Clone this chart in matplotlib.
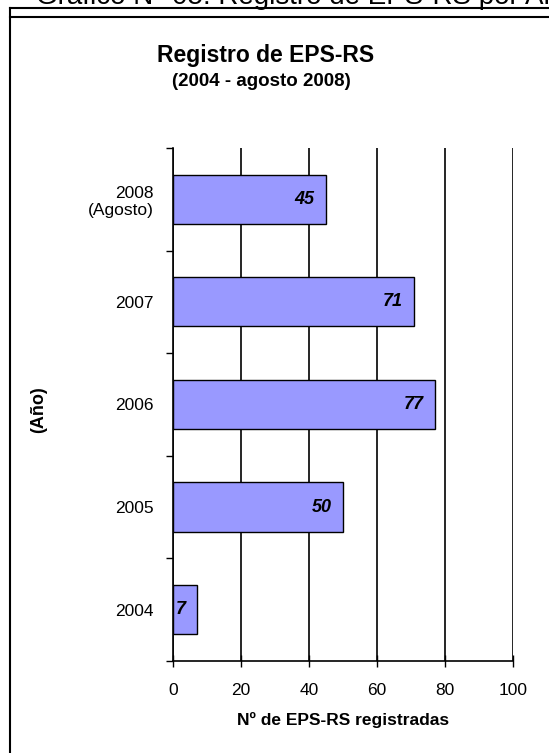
import matplotlib.pyplot as plt
from matplotlib.lines import Line2D

plt.rcParams['font.family'] = ['Liberation Sans', 'DejaVu Sans']

years = ['2004', '2005', '2006', '2007', '2008\n(Agosto)']
registered = [7, 50, 77, 71, 45]
x_ticks = [0, 20, 40, 60, 80, 100]

fig = plt.figure(figsize=(5.49, 7.53), dpi=100)
ax = fig.add_axes([0.315, 0.1222, 0.619, 0.6813])

pos = list(range(len(years)))
ax.barh(pos, registered, height=0.48, color='#9999FF', edgecolor='black', linewidth=1.0, zorder=3)
for p, v in zip(pos, registered):
    ax.annotate(str(v), (v, p), xytext=(-8, 0), textcoords='offset points',
                ha='right', va='center', fontsize=13,
                fontweight='bold', fontstyle='italic', zorder=4)

ax.set_xlim(0, 100)
ax.set_ylim(-0.5, len(years) - 0.5)
ax.set_xticks(x_ticks)
ax.set_yticks(pos)
ax.set_yticklabels(years, fontsize=12.5)
ax.tick_params(axis='y', length=0, pad=14)
ax.set_yticks([p - 0.5 for p in pos] + [len(years) - 0.5], minor=True)
ax.tick_params(axis='y', which='minor', length=5, width=1, direction='out')
ax.tick_params(axis='x', length=8, width=1, direction='inout', labelsize=12.5, pad=12)
ax.grid(axis='x', color='black', linewidth=1.2, zorder=0)
for s in ['top', 'right']:
    ax.spines[s].set_visible(False)
ax.spines['left'].set_linewidth(1.2)
ax.spines['bottom'].set_linewidth(1.2)

ax.set_xlabel('Nº de EPS-RS registradas', fontsize=12.5, fontweight='bold', labelpad=10)
ax.set_ylabel('(Año)', fontsize=13, fontweight='bold')
ax.yaxis.set_label_coords(-0.37, 0.49)

fig.text(0.484, 0.917, 'Registro de EPS-RS', ha='center', va='baseline', fontsize=16.5, fontweight='bold')
fig.text(0.476, 0.886, '(2004 - agosto 2008)', ha='center', va='baseline', fontsize=13.5, fontweight='bold')

fig.text(0.065, 1 - 4 / 753, 'Gráfico N° 05: Registro de EPS-RS por Año', ha='left', va='baseline', fontsize=20)

fig.add_artist(Line2D([0.018, 1.0], [1 - 8 / 753, 1 - 8 / 753], color='black', linewidth=1.5, transform=fig.transFigure))
fig.add_artist(Line2D([0.018, 1.0], [1 - 17 / 753, 1 - 17 / 753], color='black', linewidth=1.5, transform=fig.transFigure))
fig.add_artist(Line2D([0.018, 0.018], [0.0, 1 - 8 / 753], color='black', linewidth=1.5, transform=fig.transFigure))

fig.savefig('out.png', dpi=100)
